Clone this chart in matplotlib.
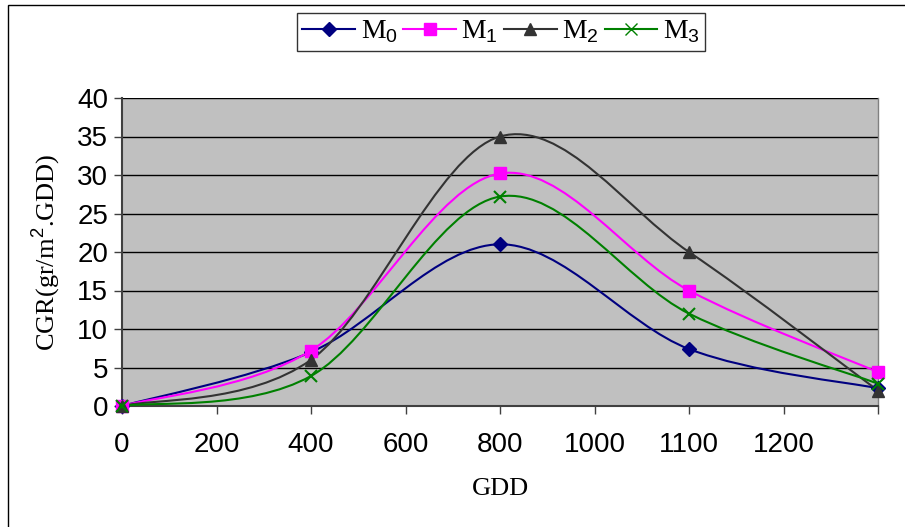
import matplotlib
matplotlib.use("Agg")
import matplotlib.pyplot as plt
from matplotlib.path import Path
from matplotlib.patches import PathPatch, Rectangle
from matplotlib.lines import Line2D

plt.rcParams['mathtext.fontset'] = 'custom'
plt.rcParams['mathtext.rm'] = 'Liberation Sans'
plt.rcParams['mathtext.it'] = 'Liberation Sans'

# data (x positions on the chart's linear axis, one step = one tick)
gdd = [0, 400, 800, 1200, 1600]
tick_pos = [0, 200, 400, 600, 800, 1000, 1200, 1400, 1600]
tick_lab = ['0', '200', '400', '600', '800', '1000', '1100', '1200', '']

m0 = [0, 7.0, 21.0, 7.4, 2.3]
m1 = [0, 7.2, 30.2, 15.0, 4.4]
m2 = [0, 6.0, 35.0, 20.0, 2.0]
m3 = [0, 3.9, 27.2, 12.0, 2.9]

names = ['M$_{0}$', 'M$_{1}$', 'M$_{2}$', 'M$_{3}$']
colors = ['#000080', '#FF00FF', '#333333', '#008000']
markers = ['D', 's', '^', 'x']
msizes = [7, 9, 9, 9]


def smooth_path(ax, xs, ys):
    # Excel-style smoothed line: cubic Bezier segments (Catmull-Rom)
    # built in pixel space so the shape follows the screen
    pts = [ax.transData.transform((x, y)) for x, y in zip(xs, ys)]
    n = len(pts)
    verts = [pts[0]]
    codes = [Path.MOVETO]
    for i in range(n - 1):
        p0 = pts[i - 1] if i > 0 else pts[i]
        p1 = pts[i]
        p2 = pts[i + 1]
        p3 = pts[i + 2] if i + 2 < n else pts[i + 1]
        c1 = p1 + (p2 - p0) / 6.0
        c2 = p2 - (p3 - p1) / 6.0
        verts += [c1, c2, p2]
        codes += [Path.CURVE4] * 3
    return Path(verts, codes)


fig = plt.figure(figsize=(9.05, 5.27), dpi=100)
fig.patches.append(Rectangle((8 / 905, -0.05), 1.0, (527 - 5) / 527 + 0.05,
                             transform=fig.transFigure, fill=False,
                             edgecolor='black', linewidth=1.0))

ax = fig.add_axes([122 / 905, 121 / 527, 756 / 905, 308 / 527])
ax.set_facecolor('#C0C0C0')
ax.set_xlim(0, 1600)
ax.set_ylim(0, 40)
ax.set_yticks(range(0, 41, 5))
ax.set_xticks(tick_pos)
ax.set_xticklabels(tick_lab)
ax.yaxis.grid(True, color='black', linewidth=1.0)
ax.set_axisbelow(True)

for side in ['top', 'right']:
    ax.spines[side].set_color('#808080')
    ax.spines[side].set_linewidth(1.0)
for side in ['left', 'bottom']:
    ax.spines[side].set_color('#404040')
    ax.spines[side].set_linewidth(1.5)
ax.spines['top'].set_visible(False)

ax.tick_params(axis='both', direction='out', length=6, width=1, color='#404040',
               labelsize=20, pad=4)
ax.tick_params(axis='x', pad=13)
for lab in ax.get_xticklabels() + ax.get_yticklabels():
    lab.set_family('Liberation Sans')

ax.set_ylabel('CGR(gr/m$^{2}$.GDD)', family='Liberation Serif', fontsize=19,
              labelpad=10)
ax.set_xlabel('GDD', family='Liberation Serif', fontsize=19, labelpad=14)

fig.canvas.draw()
series = [m0, m1, m2, m3]
handles = []
for s, c, mk, ms, nm in zip(series, colors, markers, msizes, names):
    path = smooth_path(ax, gdd, s)
    patch = PathPatch(path, transform=None, fill=False, edgecolor=c,
                      linewidth=1.5, clip_on=False, zorder=3)
    ax.add_artist(patch)
    ax.plot(gdd, s, linestyle='none', marker=mk, color=c, markersize=ms,
            markeredgewidth=1.5 if mk == 'x' else 1.0, clip_on=False, zorder=4)
    handles.append(Line2D([], [], color=c, marker=mk, markersize=ms,
                          linewidth=1.5, label=nm))

leg = fig.legend(handles=handles, loc='center',
                 bbox_to_anchor=(501 / 905, 1 - 32 / 527), ncol=4,
                 frameon=True, fancybox=False, edgecolor='black',
                 prop={'family': 'Liberation Serif', 'size': 20},
                 handlelength=1.9, handletextpad=0.2, columnspacing=0.2,
                 borderpad=0.2, borderaxespad=0)
leg.get_frame().set_linewidth(1.0)

fig.savefig('out.png', dpi=100)
